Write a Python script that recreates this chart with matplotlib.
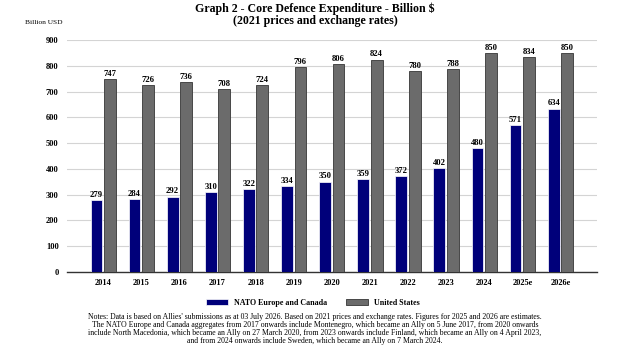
import matplotlib
matplotlib.use("Agg")
import matplotlib.pyplot as plt
import numpy as np

years = ["2014", "2015", "2016", "2017", "2018", "2019", "2020", "2021", "2022", "2023", "2024", "2025e", "2026e"]
nato_eu_canada = [279, 284, 292, 310, 322, 334, 350, 359, 372, 402, 480, 571, 634]
united_states = [747, 726, 736, 708, 724, 796, 806, 824, 780, 788, 850, 834, 850]
yticks = [0, 100, 200, 300, 400, 500, 600, 700, 800, 900]

plt.rcParams['font.family'] = ['Liberation Serif', 'DejaVu Serif']

fig = plt.figure(figsize=(6.3, 3.54), dpi=100)
ax = fig.add_axes([67/630, 1 - 272/354, (597-67)/630, (272-40)/354])

x = np.arange(len(years))
w = 0.31
off = 0.177
blue = "#00007a"
gray = "#6b6b6b"
b1 = ax.bar(x - off, nato_eu_canada, width=w, color=blue, edgecolor="white", linewidth=0.5, zorder=3)
b2 = ax.bar(x + off, united_states, width=w, color=gray, edgecolor="#474747", linewidth=0.7, zorder=3)

for rect, v in zip(b1, nato_eu_canada):
    ax.text(rect.get_x() + rect.get_width()/2, v + 5, str(v), ha="center", va="bottom",
            fontsize=6.2, fontweight="bold", zorder=4)
for rect, v in zip(b2, united_states):
    ax.text(rect.get_x() + rect.get_width()/2, v + 5, str(v), ha="center", va="bottom",
            fontsize=6.2, fontweight="bold", zorder=4)

ax.set_ylim(0, 900)
ax.set_xlim(-0.95, 12.96)
ax.set_yticks(yticks)
ax.set_xticks(x)
ax.set_xticklabels(years)
ax.tick_params(axis="both", length=0, labelsize=6)
ax.tick_params(axis="y", pad=6)
ax.tick_params(axis="x", pad=5)
for lab in ax.get_xticklabels() + ax.get_yticklabels():
    lab.set_fontweight("bold")
ax.yaxis.grid(True, color="#d4d4d4", linewidth=0.8, zorder=0)
for s in ["left", "right", "top"]:
    ax.spines[s].set_visible(False)
ax.spines["bottom"].set_color("#333333")
ax.spines["bottom"].set_linewidth(1.0)

fig.text(0.5, 1 - 9/354, "Graph 2 - Core Defence Expenditure - Billion $", ha="center", va="center",
         fontsize=8.6, fontweight="bold")
fig.text(0.5, 1 - 21/354, "(2021 prices and exchange rates)", ha="center", va="center",
         fontsize=8.6, fontweight="bold")
fig.text(25/630, 1 - 23/354, "Billion USD", ha="left", va="center", fontsize=5.3)

leg = fig.legend([b1, b2], ["NATO Europe and Canada", "United States"], loc="center",
                 bbox_to_anchor=(313/630, 1 - 303/354), ncol=2, frameon=False,
                 prop={"size": 5.8, "weight": "bold"}, handlelength=2.7, handleheight=0.7,
                 columnspacing=2.3, handletextpad=0.8)

notes = ("Notes: Data is based on Allies' submissions as at 03 July 2026. Based on 2021 prices and exchange rates. Figures for 2025 and 2026 are estimates.\n"
         "The NATO Europe and Canada aggregates from 2017 onwards include Montenegro, which became an Ally on 5 June 2017, from 2020 onwards\n"
         "include North Macedonia, which became an Ally on 27 March 2020, from 2023 onwards include Finland, which became an Ally on 4 April 2023,\n"
         "and from 2024 onwards include Sweden, which became an Ally on 7 March 2024.")
fig.text(0.5, 1 - 329/354, notes, ha="center", va="center", fontsize=5.55, linespacing=1.0)

fig.savefig("out.png", dpi=100)
